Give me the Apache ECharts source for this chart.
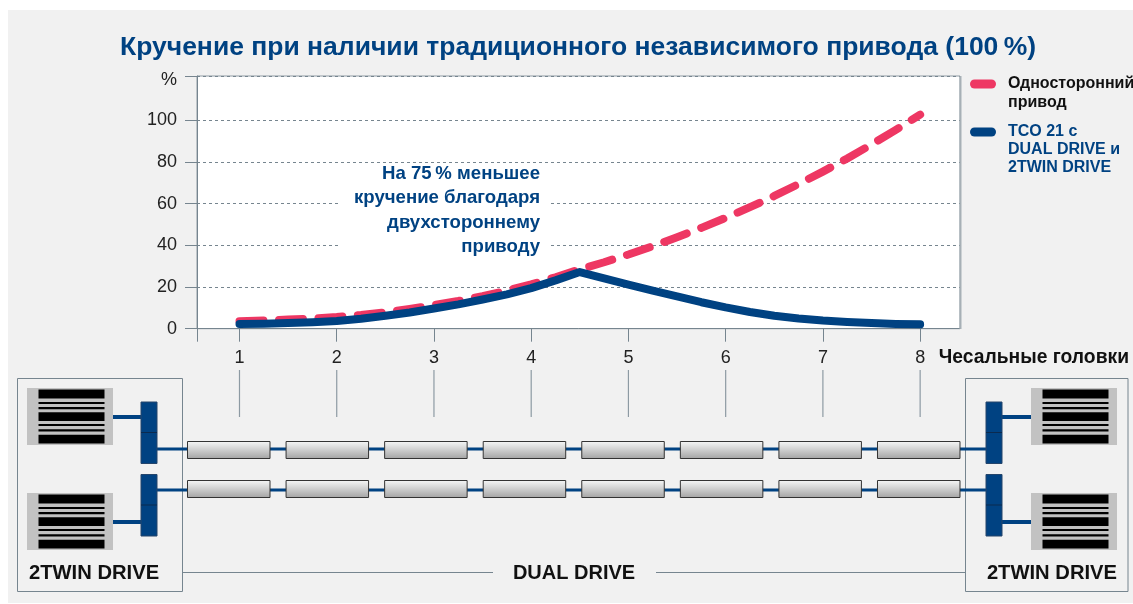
<!DOCTYPE html>
<html>
<head>
<meta charset="utf-8">
<title>Кручение</title>
<script src="https://cdn.jsdelivr.net/npm/echarts@6/dist/echarts.min.js"></script>
<style>
html, body { margin: 0; padding: 0; background: #fff; }
#panel { position: absolute; left: 8px; top: 10px; width: 1125px; height: 593px; background: #f1f1f1; }
#chart { position: absolute; left: 0; top: 0; width: 1133px; height: 604px; }
</style>
</head>
<body>
<div id="panel"></div>
<div id="chart"></div>
<script>
// chart data
const headNumbers = [1, 2, 3, 4, 5, 6, 7, 8];
const positions = [1, 1.25, 1.5, 1.75, 2, 2.25, 2.5, 2.75, 3, 3.25, 3.5, 3.75, 4, 4.25, 4.5, 4.75, 5, 5.25, 5.5, 5.75, 6, 6.25, 6.5, 6.75, 7, 7.25, 7.5, 7.75, 8];
const oneSidedValues = [3.6, 3.9, 4.4, 4.9, 5.6, 6.6, 7.9, 9.5, 11.3, 13.3, 15.6, 18.3, 21.3, 24.7, 28.5, 31.9, 35.6, 39.6, 43.9, 48.4, 53.2, 58.3, 63.7, 69.4, 75.4, 81.7, 88.4, 95.4, 102.7];
const tcoValues = [2.3, 2.4, 2.7, 3.1, 3.7, 4.8, 6.2, 7.8, 9.7, 11.7, 14, 16.5, 19.5, 23.2, 27.2, 24.1, 21.2, 18.3, 15.5, 12.7, 10.2, 8, 6.2, 4.9, 3.9, 3.2, 2.7, 2.3, 2.1];
const yTicks = [0, 20, 40, 60, 80, 100];

const titleText = 'Кручение при наличии традиционного независимого привода (100\u2009%)';
const noteLines = ['На 75\u2009% меньшее', 'кручение благодаря', 'двухстороннему', 'приводу'];
const oneSidedName = 'Односторонний привод';
const tcoName = 'TCO 21 с DUAL DRIVE и 2TWIN DRIVE';
const headsLabel = 'Чесальные головки';
const twinLabel = '2TWIN DRIVE';
const dualLabel = 'DUAL DRIVE';

const blue = '#004282';
const red = '#ee3763';
const axisGrey = '#76858f';
const font = '"Liberation Sans", Arial, sans-serif';
const pill = 'path://M4.5 0H21.5A4.5 4.5 0 0 1 21.5 9H4.5A4.5 4.5 0 0 1 4.5 0Z';

const yMax = 121.26;
const xMin = 0.563;
const xMax = 8.41;

var chart = echarts.init(document.getElementById('chart'), null, { renderer: 'canvas' });

// schematic at the bottom
var els = [];
function rect(x, y, w, h, fill, extra) {
    els.push(Object.assign({ type: 'rect', z: 1, shape: { x: x, y: y, width: w, height: h }, style: { fill: fill } }, extra || {}));
}
function line(x1, y1, x2, y2, color, width) {
    els.push({ type: 'line', z: 1, shape: { x1: x1, y1: y1, x2: x2, y2: y2 }, style: { stroke: color, lineWidth: width } });
}
function text(str, x, y, size, color, align) {
    els.push({ type: 'text', z: 3, x: x, y: y, style: { text: str, fill: color, font: 'bold ' + size + 'px ' + font, align: align || 'left', verticalAlign: 'middle' } });
}
function comb(x, y) {
    rect(x, y, 86, 57, '#c2c2c2');
    [[1.5, 9], [14, 2], [19, 2.2], [24.3, 8.6], [36, 2], [41.3, 2.2], [46.7, 8.8]].forEach(function (b) {
        rect(x + 11.5, y + b[0], 66, b[1], '#000');
    });
}
function driveBlock(x, y) {
    rect(x, y, 16, 61.5, blue, { style: { fill: blue, stroke: '#25456b', lineWidth: 1 } });
    line(x, y + 30.5, x + 16, y + 30.5, '#0b2a4f', 1);
}

// white patch behind the note
rect(338, 175, 212, 85, '#fff');

// right edge of the plot is heavier
line(960.5, 76, 960.5, 329, '#a7b0b6', 2);

// boxes and connecting line
rect(17.5, 378.5, 165, 213, 'none', { style: { fill: 'none', stroke: axisGrey, lineWidth: 1 } });
rect(965.5, 378.5, 162.5, 213, 'none', { style: { fill: 'none', stroke: axisGrey, lineWidth: 1 } });
line(183, 572.5, 493, 572.5, axisGrey, 1);
line(656, 572.5, 965, 572.5, axisGrey, 1);

// wires
line(157, 449, 986, 449, blue, 3);
line(157, 490, 986, 490, blue, 3);
line(113, 417, 141, 417, blue, 4);
line(113, 522, 141, 522, blue, 4);
line(1002, 417, 1031, 417, blue, 4);
line(1002, 522, 1031, 522, blue, 4);

comb(27, 388);
comb(27, 493);
comb(1031, 388);
comb(1031, 493);
driveBlock(141, 402);
driveBlock(141, 474.5);
driveBlock(986, 402);
driveBlock(986, 474.5);

// rollers
var tubeFill = new echarts.graphic.LinearGradient(0, 0, 0, 1, [
    { offset: 0, color: '#f7f8f8' },
    { offset: 1, color: '#a3a3a3' }
]);
for (var i = 0; i < 8; i++) {
    [441.5, 480.5].forEach(function (ty) {
        rect(187.5 + i * 98.57, ty, 82.5, 17, tubeFill, { style: { fill: tubeFill, stroke: '#333', lineWidth: 1 } });
    });
}

// texts
noteLines.forEach(function (s, k) {
    text(s, 540, 174 + k * 24.2, 18.6, blue, 'right');
});
text(headsLabel, 1129, 358, 19.3, '#111', 'right');
text(twinLabel, 29, 573, 20.2, '#111');
text(twinLabel, 1117, 573, 20.2, '#111', 'right');
text(dualLabel, 574, 573, 20, '#111', 'center');

var option = {
    animation: false,
    textStyle: { fontFamily: font },
    title: {
        text: titleText,
        left: 115,
        top: 29,
        textStyle: { color: blue, fontFamily: font, fontWeight: 'bold', fontSize: 26.5 }
    },
    legend: [
        {
            data: [oneSidedName],
            left: 970,
            top: 54,
            padding: 0,
            icon: pill,
            itemWidth: 26,
            itemHeight: 9,
            selectedMode: false,
            // leading blank lines keep the swatch level with the first text line
            formatter: function () { return '\nОдносторонний\nпривод'; },
            textStyle: { color: '#111', fontFamily: font, fontWeight: 'bold', fontSize: 16, lineHeight: 19, padding: [3, 0, 0, 7] }
        },
        {
            data: [tcoName],
            left: 970,
            top: 85.5,
            padding: 0,
            icon: pill,
            itemWidth: 26,
            itemHeight: 9,
            selectedMode: false,
            formatter: function () { return '\n\nTCO 21 с\nDUAL DRIVE и\n2TWIN DRIVE'; },
            textStyle: { color: blue, fontFamily: font, fontWeight: 'bold', fontSize: 16, lineHeight: 18, padding: [3, 0, 0, 7] }
        }
    ],
    grid: {
        left: 197,
        top: 76,
        width: 763,
        height: 252.7,
        show: true,
        backgroundColor: '#fff',
        borderColor: '#8e9aa3',
        borderWidth: 1
    },
    xAxis: {
        type: 'value',
        min: xMin,
        max: xMax,
        axisLine: { show: true, lineStyle: { color: axisGrey, width: 1 } },
        axisTick: { show: true, length: 13, lineStyle: { color: axisGrey }, customValues: [xMin].concat(headNumbers) },
        axisLabel: { color: '#222', fontSize: 18, margin: 20, customValues: headNumbers },
        splitLine: { show: false }
    },
    yAxis: {
        type: 'value',
        min: 0,
        max: yMax,
        axisLine: { show: true, lineStyle: { color: axisGrey, width: 1 } },
        axisTick: { show: true, length: 12, lineStyle: { color: axisGrey }, customValues: yTicks.concat([yMax]) },
        axisLabel: {
            color: '#222',
            fontSize: 18,
            margin: 20,
            customValues: yTicks.concat([yMax]),
            formatter: function (v) { return v > 100 ? '{p|%}' : v; },
            rich: { p: { fontSize: 18, color: '#222', padding: [9, 0, 0, 0] } }
        },
        splitLine: { show: true, customValues: yTicks, lineStyle: { color: axisGrey, type: [3, 3], width: 1 } }
    },
    graphic: { elements: els },
    series: [
        {
            name: oneSidedName,
            type: 'line',
            z: 2,
            showSymbol: false,
            itemStyle: { color: red },
            lineStyle: { color: red, width: 8, cap: 'round', join: 'round', type: [24, 15.5] },
            data: positions.map(function (x, k) { return [x, oneSidedValues[k]]; })
        },
        {
            name: tcoName,
            type: 'line',
            z: 3,
            showSymbol: false,
            itemStyle: { color: blue },
            lineStyle: { color: blue, width: 8, cap: 'round', join: 'round' },
            data: positions.map(function (x, k) { return [x, tcoValues[k]]; })
        },
        {
            // drop lines from the axis numbers to the heads
            name: 'heads',
            type: 'custom',
            z: 1,
            silent: true,
            data: headNumbers,
            encode: { x: 0 },
            renderItem: function (params, api) {
                var px = api.coord([api.value(0), 0])[0];
                return {
                    type: 'line',
                    shape: { x1: px, y1: 370, x2: px, y2: 417 },
                    style: { stroke: '#8d9aa3', lineWidth: 1.2 }
                };
            }
        }
    ]
};
chart.setOption(option);
window.addEventListener('resize', chart.resize);
</script>
</body>
</html>
